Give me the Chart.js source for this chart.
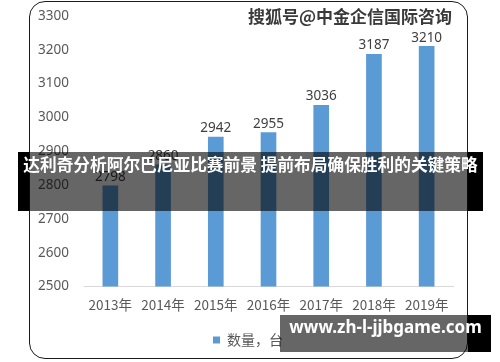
<!DOCTYPE html>
<html><head><meta charset="utf-8">
<script src="https://cdn.jsdelivr.net/npm/chart.js@4"></script>
<style>
html,body{margin:0;padding:0;background:#fff;}
#wrap{position:relative;width:500px;height:362px;overflow:hidden;}
#frame{position:absolute;left:29px;top:1px;width:437px;height:356px;border:1.5px solid #1a1a1a;border-radius:16px;}
canvas{position:absolute;left:0;top:0;}
.ov{position:absolute;background:rgba(0,0,0,0.6);}
.blk{position:absolute;background:#000;}
#banner{left:29px;top:152px;width:439px;height:59px;}
#bannerTxt{position:absolute;left:18px;top:152px;width:465px;height:59px;line-height:59px;text-align:center;color:#fff;font:bold 16.7px "Noto Sans CJK SC";white-space:nowrap;}
#site{left:280px;top:315px;width:188px;height:37px;}
#siteTxt{position:absolute;left:280px;top:315px;width:211px;height:37px;line-height:37px;text-align:center;color:#fff;font:bold 17px "Noto Sans";white-space:nowrap;}
#wm{position:absolute;left:245px;top:3px;width:210px;text-align:center;font:bold 17px "Noto Sans CJK SC";color:#3a3a3a;white-space:nowrap;text-shadow:0 0 2px #fff;}
</style></head>
<body><div id="wrap">
<canvas id="c" width="500" height="362"></canvas>
<div id="frame"></div>
<div id="wm">搜狐号@中金企信国际咨询</div>
<div class="ov" id="banner"></div>
<div class="blk" style="left:18px;top:152px;width:11px;height:59px"></div>
<div class="blk" style="left:468px;top:152px;width:15px;height:59px"></div>
<div id="bannerTxt">达利奇分析阿尔巴尼亚比赛前景 提前布局确保胜利的关键策略</div>
<div class="ov" id="site"></div>
<div class="blk" style="left:468px;top:315px;width:23px;height:37px"></div>
<div id="siteTxt">www.zh-l-jjbgame.com</div>
</div>
<script>
const years = ["2013年","2014年","2015年","2016年","2017年","2018年","2019年"];
const quantity = [2798, 2860, 2942, 2955, 3036, 3187, 3210];
const seriesName = "数量，台";
const yMin = 2500, yMax = 3300, yStep = 100;

const valueLabels = {
  id: 'valueLabels',
  afterDatasetsDraw(chart) {
    const ctx = chart.ctx;
    const meta = chart.getDatasetMeta(0);
    ctx.save();
    ctx.font = '13.5px "Noto Sans"';
    ctx.fillStyle = '#404040';
    ctx.textAlign = 'center';
    ctx.textBaseline = 'bottom';
    meta.data.forEach((bar, i) => {
      ctx.fillText(String(quantity[i]), bar.x, bar.y - 2);
    });
    ctx.restore();
  }
};
const legendShift = {
  id: 'legendShift',
  afterLayout(chart) {
    if (chart.legend) { chart.legend.left += 7; chart.legend.right += 7; }
  }
};

new Chart(document.getElementById('c'), {
  type: 'bar',
  data: {
    labels: years,
    datasets: [{
      label: seriesName,
      data: quantity,
      backgroundColor: '#5b9bd5',
      barThickness: 15
    }]
  },
  options: {
    responsive: false,
    animation: false,
    layout: { padding: { left: 29, right: 47, top: 5, bottom: 5 } },
    plugins: {
      legend: {
        position: 'bottom',
        labels: {
          boxWidth: 7, boxHeight: 7, padding: 12,
          color: '#595959',
          font: { size: 14, family: '"Noto Sans CJK SC"' }
        }
      },
      tooltip: { enabled: false }
    },
    scales: {
      x: {
        grid: { display: false, drawTicks: false },
        border: { display: true, color: '#d9d9d9', width: 1 },
        ticks: { color: '#595959', font: { size: 13.5, family: '"Noto Sans CJK SC"' }, padding: 10 },
        afterFit: s => { s.height = 34.5; }
      },
      y: {
        min: yMin, max: yMax,
        grid: { display: false, drawTicks: false },
        border: { display: false },
        ticks: { stepSize: yStep, color: '#595959', font: { size: 13.5, family: '"Noto Sans"' }, padding: 15,
                 callback: v => String(v) },
        afterFit: s => { s.width = 55; s.paddingTop = 16; s.paddingBottom = 10; }
      }
    }
  },
  plugins: [valueLabels, legendShift]
});
</script>
</body></html>
